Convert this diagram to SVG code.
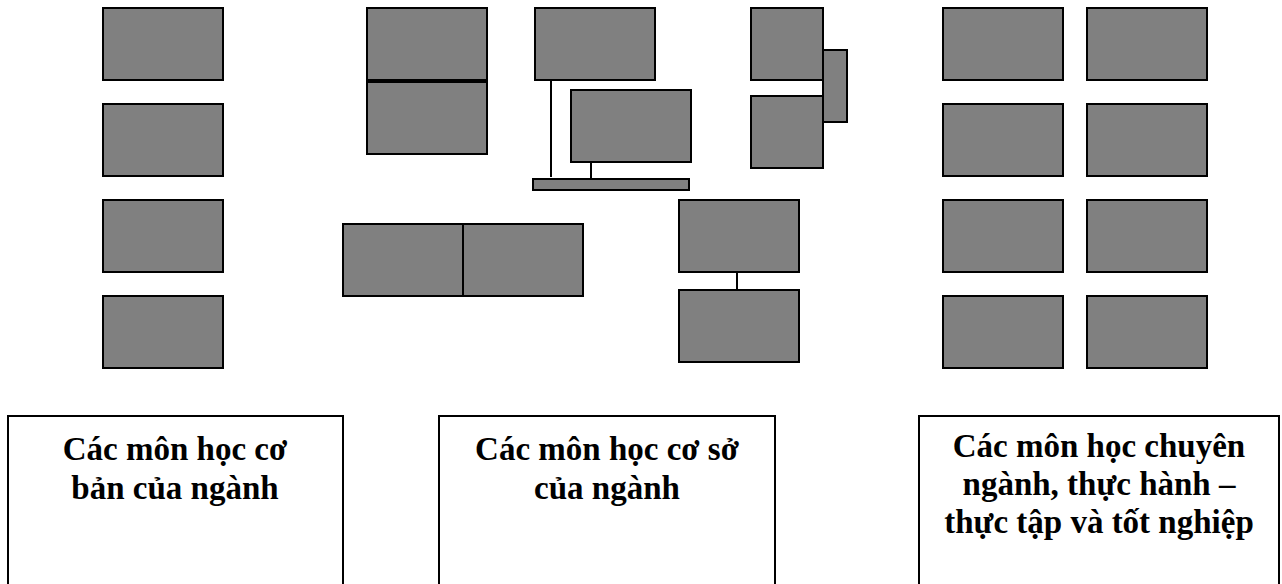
<svg xmlns="http://www.w3.org/2000/svg" width="1282" height="584" viewBox="0 0 1282 584">
<style>
.n{fill:#808080;stroke:#000;stroke-width:2}
.c{stroke:#000;stroke-width:2;fill:none}
.b{fill:#fff;stroke:#000;stroke-width:2}
.t{font-family:"Liberation Serif","Times New Roman",serif;font-weight:bold;font-size:33px;fill:#000;text-anchor:middle}
</style>
<rect width="1282" height="584" fill="#fff"/>
<g id="connectors">
<line class="c" x1="551" y1="80" x2="551" y2="177"/>
<line class="c" x1="591" y1="162" x2="591" y2="179"/>
<line class="c" x1="737" y1="272" x2="737" y2="290"/>
</g>
<g id="col1">
<rect id="n1" class="n" x="103" y="8" width="120" height="72"/>
<rect id="n2" class="n" x="103" y="104" width="120" height="72"/>
<rect id="n3" class="n" x="103" y="200" width="120" height="72"/>
<rect id="n4" class="n" x="103" y="296" width="120" height="72"/>
</g>
<g id="col2">
<rect id="m1" class="n" x="367" y="8" width="120" height="72"/>
<rect id="m2" class="n" x="367" y="82" width="120" height="72"/>
<rect id="m3" class="n" x="535" y="8" width="120" height="72"/>
<rect id="m4" class="n" x="571" y="90" width="120" height="72"/>
<rect id="m5" class="n" x="533" y="179" width="156" height="11"/>
<rect id="m6" class="n" x="751" y="8" width="72" height="72"/>
<rect id="m7" class="n" x="751" y="96" width="72" height="72"/>
<rect id="m8" class="n" x="823" y="50" width="24" height="72"/>
<rect id="m9" class="n" x="343" y="224" width="120" height="72"/>
<rect id="m10" class="n" x="463" y="224" width="120" height="72"/>
<rect id="m11" class="n" x="679" y="200" width="120" height="72"/>
<rect id="m12" class="n" x="679" y="290" width="120" height="72"/>
</g>
<g id="col3">
<rect id="r1" class="n" x="943" y="8" width="120" height="72"/>
<rect id="r2" class="n" x="1087" y="8" width="120" height="72"/>
<rect id="r3" class="n" x="943" y="104" width="120" height="72"/>
<rect id="r4" class="n" x="1087" y="104" width="120" height="72"/>
<rect id="r5" class="n" x="943" y="200" width="120" height="72"/>
<rect id="r6" class="n" x="1087" y="200" width="120" height="72"/>
<rect id="r7" class="n" x="943" y="296" width="120" height="72"/>
<rect id="r8" class="n" x="1087" y="296" width="120" height="72"/>
</g>
<g id="label1">
<rect class="b" x="8" y="416" width="335" height="180"/>
<text class="t" x="175" y="460">Các môn học cơ</text>
<text class="t" x="175" y="499">bản của ngành</text>
</g>
<g id="label2">
<rect class="b" x="439" y="416" width="336" height="180"/>
<text class="t" x="607" y="460">Các môn học cơ sở</text>
<text class="t" x="607" y="499">của ngành</text>
</g>
<g id="label3">
<rect class="b" x="919" y="416" width="360" height="180"/>
<text class="t" x="1099" y="457">Các môn học chuyên</text>
<text class="t" x="1099" y="495">ngành, thực hành –</text>
<text class="t" x="1099" y="533">thực tập và tốt nghiệp</text>
</g>
</svg>
